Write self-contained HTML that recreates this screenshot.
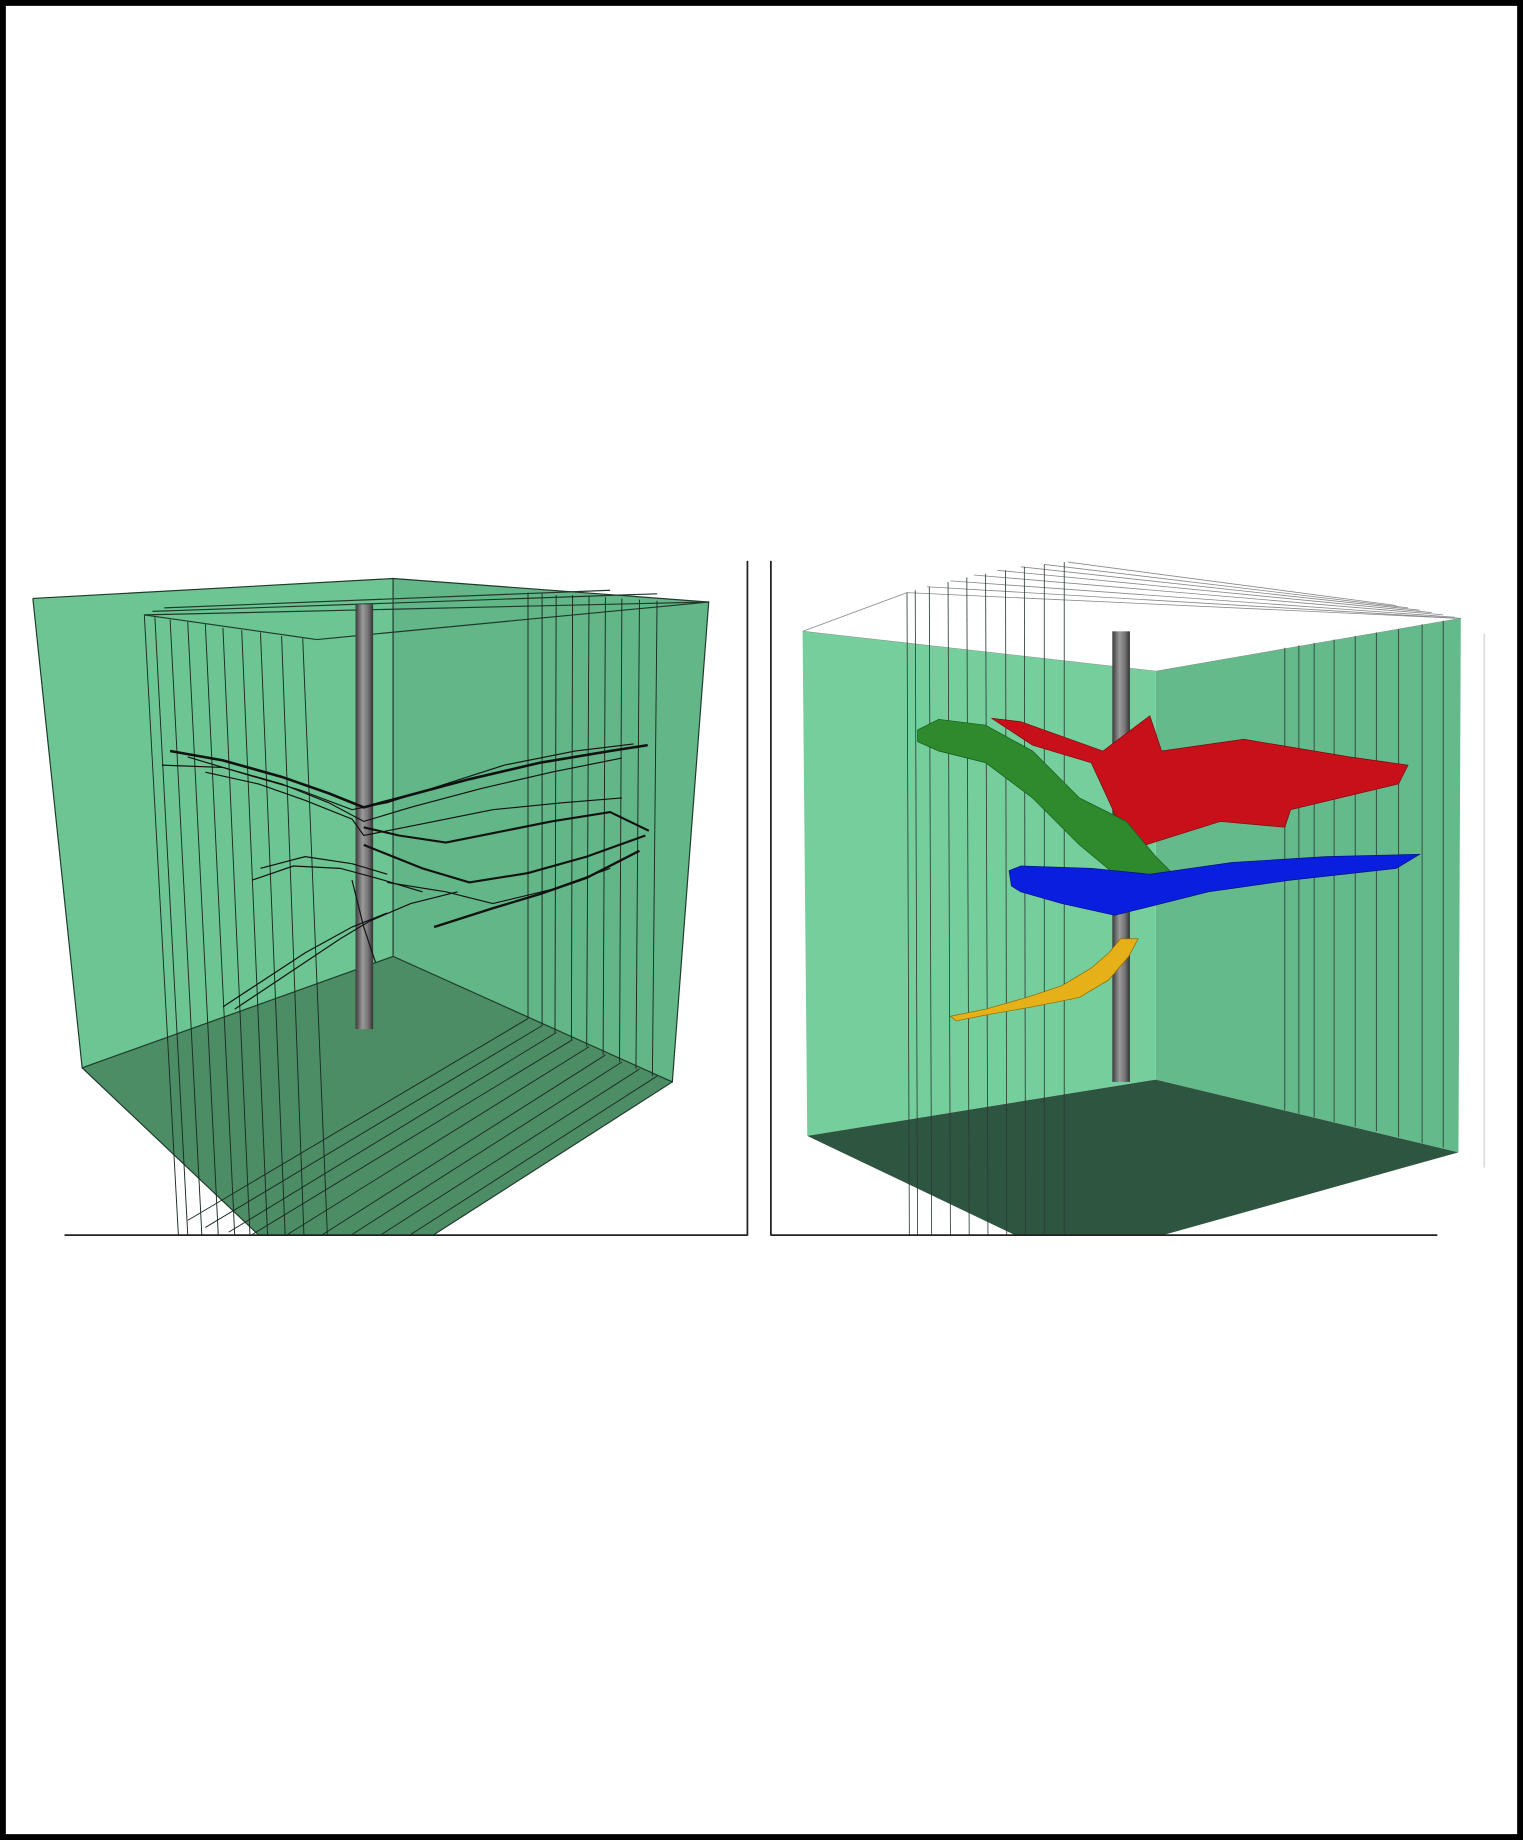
<!DOCTYPE html>
<html><head><meta charset="utf-8"><style>
html,body{margin:0;padding:0;background:#fff;}
svg{display:block;}
</style></head><body>
<svg width="1523" height="1840" viewBox="0 0 1298 1568" preserveAspectRatio="none" xmlns="http://www.w3.org/2000/svg">
<defs>
<linearGradient id="pole" x1="0" x2="1" y1="0" y2="0">
<stop offset="0" stop-color="#3a3a3a"/><stop offset="0.4" stop-color="#9a9a9a"/><stop offset="0.7" stop-color="#777"/><stop offset="1" stop-color="#333"/>
</linearGradient>
</defs>
<rect x="2.5" y="2.5" width="1293" height="1563" fill="#fff" stroke="#000" stroke-width="5"/>

<g>
<polygon points="28,510 335,493 335,815 70,910" fill="#6cc592"/>
<polygon points="335,493 604,513 573,922 335,815" fill="#62b688"/>
<polygon points="70,910 335,815 573,922 370,1052 220,1052" fill="#4c8d66"/>
<g stroke="#1e3a2a" stroke-width="1" fill="none">
<polyline points="28,510 335,493 604,513 573,922 335,815 70,910 28,510"/>
<line x1="335" y1="493" x2="335" y2="815"/>
<line x1="70" y1="910" x2="220" y2="1052"/>
<line x1="573" y1="922" x2="370" y2="1052"/>
<line x1="123" y1="524" x2="604" y2="513"/>
<line x1="130" y1="521" x2="560" y2="506"/>
<line x1="140" y1="518" x2="520" y2="503"/>
<line x1="123" y1="524" x2="270" y2="545"/>
<line x1="270" y1="545" x2="604" y2="513"/>
</g>
<g stroke="#1a2a20" stroke-width="0.8">
<line x1="123" y1="524" x2="152" y2="1052"/><line x1="132" y1="526" x2="160" y2="1052"/>
<line x1="145" y1="528" x2="172" y2="1052"/><line x1="160" y1="530" x2="186" y2="1052"/>
<line x1="175" y1="532" x2="200" y2="1052"/><line x1="190" y1="535" x2="213" y2="1052"/>
<line x1="206" y1="537" x2="228" y2="1052"/><line x1="222" y1="539" x2="243" y2="1052"/>
<line x1="240" y1="542" x2="259" y2="1052"/><line x1="258" y1="544" x2="279" y2="1052"/>
<line x1="450" y1="505" x2="450" y2="868"/><line x1="462" y1="506" x2="462" y2="874"/>
<line x1="474" y1="507" x2="473" y2="880"/><line x1="488" y1="507" x2="487" y2="886"/>
<line x1="502" y1="508" x2="500" y2="892"/><line x1="516" y1="509" x2="514" y2="899"/>
<line x1="530" y1="510" x2="528" y2="905"/><line x1="545" y1="511" x2="542" y2="911"/>
<line x1="560" y1="512" x2="556" y2="917"/>
</g>
<g stroke="#1a2a20" stroke-width="0.8">
<line x1="450" y1="868" x2="160" y2="1040"/><line x1="462" y1="874" x2="175" y2="1046"/>
<line x1="474" y1="880" x2="195" y2="1050"/><line x1="488" y1="886" x2="215" y2="1052"/>
<line x1="502" y1="892" x2="245" y2="1052"/><line x1="516" y1="899" x2="275" y2="1052"/>
<line x1="530" y1="905" x2="300" y2="1052"/><line x1="545" y1="911" x2="325" y2="1052"/>
<line x1="560" y1="917" x2="350" y2="1052"/>
</g>
<rect x="303" y="515" width="15" height="362" fill="url(#pole)"/>
<g fill="none" stroke="#111" stroke-width="1">
<polyline points="145,640 190,648 240,662 280,676 310,688 340,680 400,664 460,650 520,640 552,635" stroke-width="2.2"/>
<polyline points="138,652 190,654 240,668 280,684 310,700 350,688 410,672 470,658 530,646"/>
<polyline points="160,645 210,660 255,673 300,690 330,684 380,668 430,652 490,640 540,634"/>
<polyline points="175,658 220,668 260,682 300,698 310,712 360,702 420,690 480,684 530,680"/>
<polyline points="310,705 340,712 380,718 420,710 470,700 520,692 553,708" stroke-width="1.8"/>
<polyline points="310,720 360,740 400,752 450,744 500,730 550,712" stroke-width="1.8"/>
<polyline points="330,752 380,760 420,770 470,758 520,740"/>
<polyline points="370,790 420,774 460,762 500,748 545,725" stroke-width="2"/>
<polyline points="215,750 250,738 290,740 320,748 360,760"/>
<polyline points="222,740 260,730 300,736 330,745"/>
<polyline points="200,860 230,840 260,820 290,800 315,785 350,770 390,760"/>
<polyline points="190,858 225,835 260,812 300,790 330,778"/>
<polyline points="300,750 310,790 320,820"/>
</g>
<g stroke="#222" stroke-width="1.5">
<line x1="637" y1="478" x2="637" y2="1053"/>
<line x1="55" y1="1052.5" x2="637" y2="1052.5"/>
</g>
</g>

<g>
<g stroke="#888" stroke-width="0.7" fill="none">
<line x1="684" y1="538" x2="773" y2="505"/>
<line x1="773" y1="505" x2="1245" y2="527"/><line x1="790" y1="500" x2="1245" y2="527"/>
<line x1="810" y1="495" x2="1240" y2="526"/><line x1="830" y1="490" x2="1230" y2="524"/>
<line x1="850" y1="486" x2="1220" y2="522"/><line x1="870" y1="483" x2="1210" y2="520"/>
<line x1="890" y1="481" x2="1200" y2="518"/><line x1="910" y1="479" x2="1190" y2="516"/>
<line x1="985" y1="572" x2="1245" y2="527"/><line x1="684" y1="538" x2="985" y2="572"/>
</g>
<polygon points="684,538 985,572 985,920 688,968" fill="#74cf9d"/>
<polygon points="985,572 1245,527 1243,982 985,920" fill="#65ba8c"/>
<polygon points="688,968 985,920 1243,982 993,1052 864,1052" fill="#2e5540"/>
<g stroke="#2a3a30" stroke-width="0.7">
<line x1="773" y1="505" x2="775" y2="1052"/><line x1="780" y1="503" x2="782" y2="1052"/>
<line x1="792" y1="500" x2="794" y2="1052"/><line x1="808" y1="496" x2="810" y2="1052"/>
<line x1="824" y1="492" x2="826" y2="1052"/><line x1="840" y1="489" x2="842" y2="1052"/>
<line x1="857" y1="486" x2="858" y2="1052"/><line x1="873" y1="483" x2="874" y2="1052"/>
<line x1="890" y1="481" x2="890" y2="1052"/><line x1="907" y1="479" x2="907" y2="1052"/>
<line x1="1095" y1="552" x2="1095" y2="946"/><line x1="1107" y1="550" x2="1107" y2="949"/>
<line x1="1120" y1="548" x2="1120" y2="952"/><line x1="1137" y1="545" x2="1137" y2="956"/>
<line x1="1155" y1="542" x2="1155" y2="960"/><line x1="1173" y1="539" x2="1173" y2="964"/>
<line x1="1192" y1="536" x2="1192" y2="969"/><line x1="1212" y1="532" x2="1212" y2="974"/>
<line x1="1230" y1="529" x2="1230" y2="978"/>
</g>
<rect x="948" y="538" width="15" height="384" fill="url(#pole)"/>
<polygon points="845,612 870,615 940,640 980,610 990,640 1060,630 1150,645 1200,652 1192,668 1100,690 1095,705 1040,700 970,722 960,715 930,650 880,635" fill="#c8101a" stroke="#7a0a10" stroke-width="0.6"/>
<polygon points="782,622 800,613 840,618 880,640 920,680 960,700 985,730 1010,755 990,760 950,745 920,720 880,680 840,650 800,640 782,632" fill="#2e8a2c" stroke="#175a18" stroke-width="0.6"/>
<polygon points="860,742 870,738 930,740 980,745 1050,735 1130,730 1210,728 1190,740 1100,750 1030,760 970,775 950,780 905,770 870,760 862,755" fill="#0a1ee0" stroke="#061080" stroke-width="0.6"/>
<polygon points="810,866 840,860 875,850 905,840 930,825 945,812 955,800 970,800 962,815 945,835 920,850 880,858 840,865 815,870" fill="#e6b018" stroke="#8a6a08" stroke-width="0.6"/>
<g stroke="#222" stroke-width="1.5">
<line x1="657" y1="478" x2="657" y2="1053"/>
<line x1="657" y1="1052.5" x2="1225" y2="1052.5"/>
</g>
<line x1="1265" y1="540" x2="1265" y2="995" stroke="#ddd" stroke-width="1.5"/>
</g>
</svg>
</body></html>
